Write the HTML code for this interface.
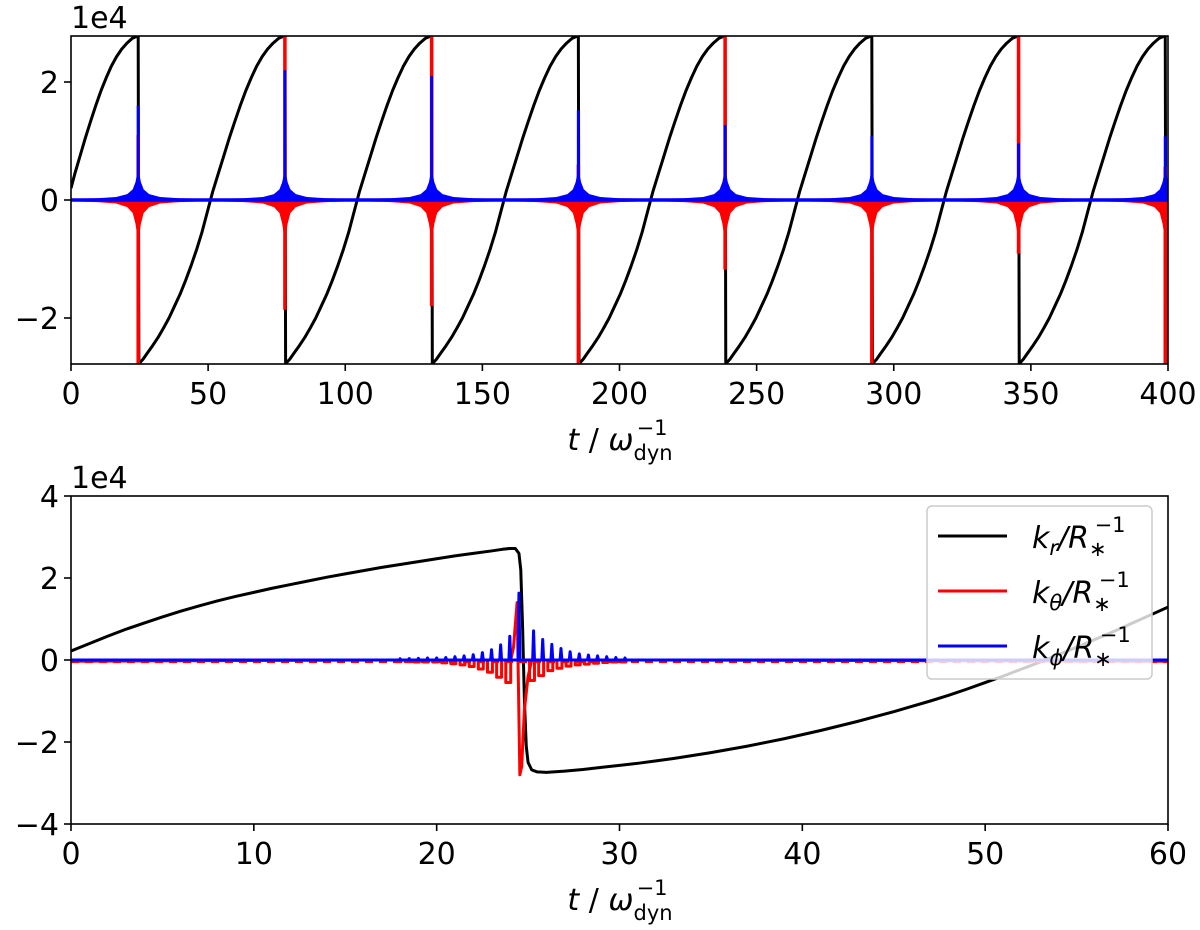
<!DOCTYPE html>
<html><head><meta charset="utf-8"><style>
html,body{margin:0;padding:0;background:#fff;}
svg{display:block;font-family:"DejaVu Sans","Liberation Sans",sans-serif;}
</style></head><body>
<svg id="fig" width="1200" height="930" viewBox="0 0 1200 930">
<g id="top"></g>
<g id="bot"></g>
</svg>
<script>
// ---- top panel data ----
const topXTicks = [0,50,100,150,200,250,300,350,400];
const topYTicks = [-2,0,2];
const jumpTimes = [24.5,78,131.5,185,238.5,292,345.5,399];
const cycleDT = [0,0.5,1.5,3,5,7,9,11,13,15,17,19,21,23,25,27,29,31,33,35,37,39,41,43,45,47,49,51,52.5,53.3];
const cycleKr = [-2.78,-2.75,-2.7,-2.6,-2.47,-2.33,-2.17,-2.0,-1.8,-1.6,-1.37,-1.12,-0.85,-0.55,-0.2,0.15,0.45,0.75,1.05,1.33,1.6,1.85,2.07,2.27,2.43,2.56,2.66,2.74,2.77,2.78];
const krStart = 0.2;
const krStartDT = 27.5;
const spikeBlueMax = [1.6,2.2,2.1,1.52,1.27,1.08,0.96,1.08];
const spikeRedMin = [-2.78,-1.86,-1.8,-2.78,-1.18,-2.78,-0.91,-2.78];
const spikeRedMax = [1.1,2.78,2.78,0.6,2.78,0.3,2.78,0.56];
const envDT = [0.2,0.5,1,2,4,8,15,27];
const envBlue = [0.55,0.42,0.3,0.18,0.1,0.05,0.03,0.02];
const envRed = [-0.7,-0.55,-0.4,-0.22,-0.12,-0.06,-0.035,-0.02];
// ---- bottom panel data ----
const botXTicks = [0,10,20,30,40,50,60];
const botYTicks = [-4,-2,0,2,4];
const krT = [0,1,2,3,4,5,6,7,8,9,10,11,12,13,14,15,16,17,18,19,20,21,22,23,23.6,24.0,24.3,24.5,24.6,24.7,24.8,24.9,25.0,25.2,25.5,26,27,28,29,30,31,32,33,34,35,36,37,38,39,40,41,42,43,44,45,46,47,48,49,50,51,52,53,54,55,56,57,58,59,60];
const krV = [0.22,0.4,0.58,0.75,0.9,1.05,1.19,1.32,1.44,1.55,1.65,1.75,1.84,1.93,2.02,2.1,2.18,2.26,2.33,2.4,2.47,2.54,2.6,2.66,2.7,2.72,2.72,2.6,2.2,0.8,-1.0,-2.1,-2.5,-2.68,-2.73,-2.74,-2.71,-2.67,-2.62,-2.57,-2.52,-2.46,-2.4,-2.33,-2.26,-2.18,-2.1,-2.01,-1.92,-1.82,-1.72,-1.61,-1.5,-1.38,-1.26,-1.13,-1.0,-0.86,-0.71,-0.55,-0.39,-0.22,-0.05,0.13,0.31,0.5,0.69,0.89,1.09,1.29];
const oscT = [18,18.5,19,19.5,20,20.5,21,21.5,22,22.5,23,23.5,24,24.5,25.3,25.8,26.3,26.8,27.3,27.8,28.3,28.8,29.3,29.8,30.3];
const oscBlue = [0.03,0.035,0.04,0.05,0.05,0.06,0.08,0.1,0.13,0.18,0.25,0.37,0.58,1.63,0.71,0.5,0.38,0.28,0.2,0.15,0.12,0.1,0.08,0.06,0.05];
const oscRed = [-0.04,-0.04,-0.05,-0.05,-0.05,-0.07,-0.09,-0.12,-0.16,-0.22,-0.3,-0.42,-0.55,0,-0.5,-0.38,-0.26,-0.2,-0.15,-0.12,-0.1,-0.08,-0.06,-0.05,-0.05];
const redCoreT = [24.2,24.4,24.55,24.65,24.8,25.0,25.2];
const redCoreV = [0.3,1.4,-2.8,-2.6,-1.2,-0.4,0.0];

const NS="http://www.w3.org/2000/svg";
function mk(p,tag,a){const e=document.createElementNS(NS,tag);for(const k in a)e.setAttribute(k,a[k]);p.appendChild(e);return e;}
const X0=71,X1=1168;

function axes(top,bot,xmin,xmax,ymin,ymax){
  const sx=v=>X0+(v-xmin)/(xmax-xmin)*(X1-X0);
  const sy=v=>bot-(v-ymin)/(ymax-ymin)*(bot-top);
  return {sx,sy};
}
function frame(g,top,bot,sx,sy,xt,yt,name){
  const r=mk(g,'rect',{x:X0,y:top,width:X1-X0,height:bot-top,fill:'none',stroke:'#000','stroke-width':1.6});
  
  
  xt.forEach(v=>{
    const x=sx(v);
    mk(g,'line',{x1:x,x2:x,y1:bot,y2:bot+7,stroke:'#000','stroke-width':1.6});
    const t=mk(g,'text',{x:x,y:bot+40,'font-size':30,'text-anchor':'middle'});
    t.textContent=v;
    
    
  });
  yt.forEach(v=>{
    const y=sy(v);
    mk(g,'line',{x1:X0-7,x2:X0,y1:y,y2:y,stroke:'#000','stroke-width':1.6});
    const t=mk(g,'text',{x:X0-12,y:y+11,'font-size':30,'text-anchor':'end'});
    t.textContent=(v<0?'\u2212':'')+Math.abs(v);
    
    
  });
  const e=mk(g,'text',{x:X0,y:top-8,'font-size':30});
  e.textContent='1e4';
  
  
  const xl=mk(g,'text',{x:620,y:bot+86,'font-size':30,'text-anchor':'middle'});
  xl.innerHTML='<tspan font-style="italic">t</tspan> / <tspan font-style="italic">ω</tspan><tspan font-size="21" dy="10">dyn</tspan><tspan font-size="21" dx="-36" dy="-25">−1</tspan>';
  
  
}
function path(g,pts,color,w,name){
  const p=mk(g,'path',{d:'M'+pts.map(q=>q[0].toFixed(2)+','+q[1].toFixed(2)).join('L'),fill:'none',stroke:color,'stroke-width':w,'stroke-linejoin':'round'});
  
  
  return p;
}

// ---------- TOP ----------
(function(){
  const g=document.getElementById('top');
  const top=36,bot=364;
  const {sx,sy}=axes(top,bot,0,400,-2.78,2.78);
  const cp=mk(g,'clipPath',{id:'ctop'});mk(cp,'rect',{x:X0,y:top,width:X1-X0,height:bot-top});
  const cg=mk(g,'g',{'clip-path':'url(#ctop)'});
  const pts=[[sx(0),sy(krStart)]];
  const lastDT=cycleDT[cycleDT.length-1];
  cycleDT.forEach((d,i)=>{
    if(d<=krStartDT)return;
    const t=(d-krStartDT)*jumpTimes[0]/(lastDT-krStartDT);
    pts.push([sx(t),sy(cycleKr[i])]);
  });
  jumpTimes.forEach((J,k)=>{
    pts.push([sx(J),sy(cycleKr[cycleKr.length-1])]);
    const nextJ=k+1<jumpTimes.length?jumpTimes[k+1]:J+53.5;
    cycleDT.forEach((d,i)=>{const t=J+0.25+d*((nextJ-J-0.25)/lastDT);if(t<=nextJ&&t<=402)pts.push([sx(t),sy(cycleKr[i])]);});
  });
  path(cg,pts,'#000',3,'kr-line-top');
  jumpTimes.forEach((J,k)=>{
    const redPts=[],bluePts=[];
    for(let i=envDT.length-1;i>=0;i--){redPts.push([sx(J-envDT[i]),sy(envRed[i])]);bluePts.push([sx(J-envDT[i]),sy(envBlue[i])]);}
    for(let i=0;i<envDT.length;i++){redPts.push([sx(J+envDT[i]),sy(envRed[i])]);bluePts.push([sx(J+envDT[i]),sy(envBlue[i])]);}
    const rp=mk(cg,'polygon',{points:[[sx(J-envDT[envDT.length-1]),sy(0)],...redPts,[sx(J+envDT[envDT.length-1]),sy(0)]].map(q=>q.join(',')).join(' '),fill:'#ff0000'});
    
    
    const rs=mk(cg,'line',{x1:sx(J),x2:sx(J),y1:sy(spikeRedMin[k]),y2:sy(spikeRedMax[k]),stroke:'#ff0000','stroke-width':3.5});
    
    
    const bp=mk(cg,'polygon',{points:[[sx(J-envDT[envDT.length-1]),sy(0)],...bluePts,[sx(J+envDT[envDT.length-1]),sy(0)]].map(q=>q.join(',')).join(' '),fill:'#0000ff'});
    
    
    const bs=mk(cg,'line',{x1:sx(J),x2:sx(J),y1:sy(0),y2:sy(spikeBlueMax[k]),stroke:'#0000ff','stroke-width':3});
    
    
  });
  const bl=mk(cg,'line',{x1:sx(0),x2:sx(400),y1:sy(0),y2:sy(0),stroke:'#0000ff','stroke-width':3.5});
  
  
  frame(g,top,bot,sx,sy,topXTicks,topYTicks,'top');
})();

// ---------- BOTTOM ----------
(function(){
  const g=document.getElementById('bot');
  const top=496,bot=824;
  const {sx,sy}=axes(top,bot,0,60,-4,4);
  const cp=mk(g,'clipPath',{id:'cbot'});mk(cp,'rect',{x:X0,y:top,width:X1-X0,height:bot-top});
  const cg=mk(g,'g',{'clip-path':'url(#cbot)'});
  path(cg,krT.map((t,i)=>[sx(t),sy(krV[i])]),'#000',3,'kr-line');
  const rpts=[[sx(0),sy(-0.03)]];
  oscT.forEach((t,i)=>{
    if(t===24.5){redCoreT.forEach((c,j)=>rpts.push([sx(c),sy(redCoreV[j])]));return;}
    rpts.push([sx(t-0.22),sy(0)],[sx(t-0.22),sy(oscRed[i])],[sx(t+0.05),sy(oscRed[i])],[sx(t+0.05),sy(0)]);
  });
  rpts.push([sx(60),sy(-0.03)]);
  const rb=mk(cg,'line',{x1:sx(0),x2:sx(60),y1:sy(-0.04),y2:sy(-0.04),stroke:'#ff0000','stroke-width':3,'stroke-dasharray':'8 6'});
  
  
  path(cg,rpts,'#ff0000',3,'ktheta-line');
  const bpts=[[sx(0),sy(0)]];
  oscT.forEach((t,i)=>{bpts.push([sx(t-0.05),sy(0)],[sx(t),sy(oscBlue[i])],[sx(t+0.05),sy(0)]);});
  bpts.push([sx(60),sy(0)]);
  path(cg,bpts,'#0000ff',3,'kphi-line');
  frame(g,top,bot,sx,sy,botXTicks,botYTicks,'bottom');
  const lg=mk(g,'g',{});
  
  
  mk(lg,'rect',{x:927,y:506,width:225,height:173,rx:5,fill:'rgba(255,255,255,0.8)',stroke:'#cccccc','stroke-width':1.5});
  const entries=[['#000','r'],['#ff0000','θ'],['#0000ff','ϕ']];
  entries.forEach((e,i)=>{
    const y=536+i*55;
    const l=mk(lg,'line',{x1:938,x2:1007,y1:y,y2:y,stroke:e[0],'stroke-width':3});
    
    
    const t=mk(lg,'text',{x:1032,y:y+12,'font-size':30});
    t.innerHTML='<tspan font-style="italic">k</tspan><tspan font-style="italic" font-size="21" dy="7">'+e[1]+'</tspan><tspan font-style="italic" dy="-7">/R</tspan><tspan font-size="21" dy="8">∗</tspan><tspan font-size="21" dx="-12" dy="-24">−1</tspan>';
    
    
  });
})();
</script>
</body></html>
